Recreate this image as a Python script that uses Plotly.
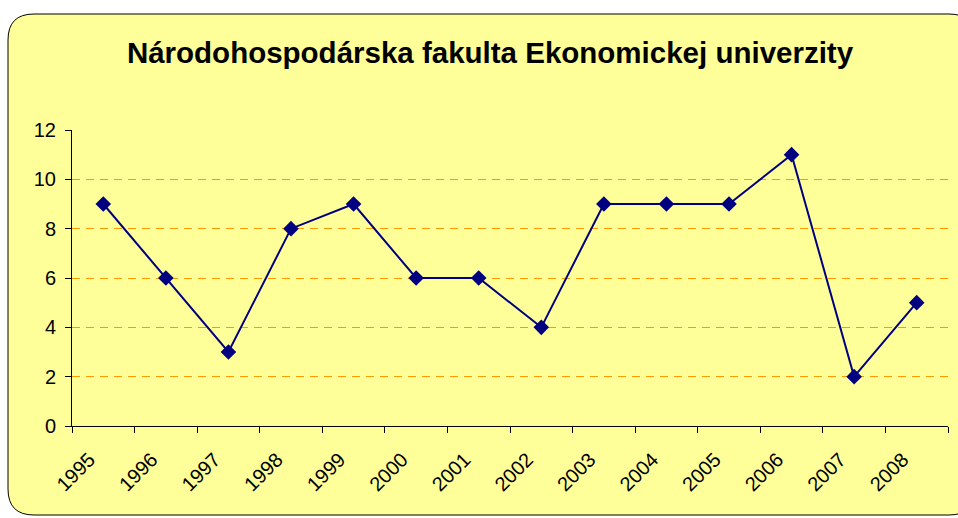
import plotly.graph_objects as go

years = ["1995", "1996", "1997", "1998", "1999", "2000", "2001", "2002",
         "2003", "2004", "2005", "2006", "2007", "2008"]
values = [9, 6, 3, 8, 9, 6, 6, 4, 9, 9, 9, 11, 2, 5]
y_ticks = [0, 2, 4, 6, 8, 10, 12]

W, H = 958, 518
ML, MR, MT, MB = 72, 10, 130, 92
PW = W - ML - MR
PH = H - MT - MB

def px(x):
    return (x - ML) / PW

def py(y):
    return (H - MB - y) / PH

# rounded frame in pixel coords -> paper coords
L, T, R, B, r = 8, 14, 975, 515, 26
path = (
    f"M {px(L+r)},{py(T)} L {px(R-r)},{py(T)} Q {px(R)},{py(T)} {px(R)},{py(T+r)} "
    f"L {px(R)},{py(B-r)} Q {px(R)},{py(B)} {px(R-r)},{py(B)} "
    f"L {px(L+r)},{py(B)} Q {px(L)},{py(B)} {px(L)},{py(B-r)} "
    f"L {px(L)},{py(T+r)} Q {px(L)},{py(T)} {px(L+r)},{py(T)} Z"
)

fig = go.Figure()
fig.add_trace(go.Scatter(
    x=years, y=values, mode="lines+markers",
    line=dict(color="#000080", width=2),
    marker=dict(symbol="diamond", size=12, color="#000080"),
    showlegend=False,
))

fig.update_layout(
    width=W, height=H,
    margin=dict(l=ML, r=MR, t=MT, b=MB),
    paper_bgcolor="white",
    plot_bgcolor="rgba(0,0,0,0)",
    font=dict(family="Liberation Sans, Arial", size=20, color="black"),
    title=dict(text="<b>Národohospodárska fakulta Ekonomickej univerzity</b>",
               x=px(490), xref="paper", xanchor="center",
               y=1 - 53 / H, yanchor="middle",
               font=dict(size=29.5, family="Liberation Sans, Arial", color="black")),
    shapes=[dict(type="path", path=path, xref="paper", yref="paper",
                 fillcolor="#FFFF99", line=dict(color="black", width=1),
                 layer="below")],
)

fig.update_xaxes(
    type="category", range=[-0.5, len(years) - 0.5],
    tickangle=-45, tickson="boundaries",
    ticks="outside", ticklen=6, tickcolor="black",
    ticklabelshift=-14, ticklabelstandoff=13,
    showline=True, linecolor="black", linewidth=1,
    showgrid=False, tickfont=dict(size=20),
)
fig.update_yaxes(
    range=[0, 12], tickvals=y_ticks, ticks="outside", ticklen=6,
    tickcolor="black", showline=True, linecolor="black", linewidth=1,
    ticklabelstandoff=5,
    showgrid=True, gridcolor="#FF9900", griddash="8px,6px", gridwidth=1,
    zeroline=False, tickfont=dict(size=20),
)

fig.write_html("out.html", config={"displayModeBar": False},
               post_script="document.body.style.margin='0';")
